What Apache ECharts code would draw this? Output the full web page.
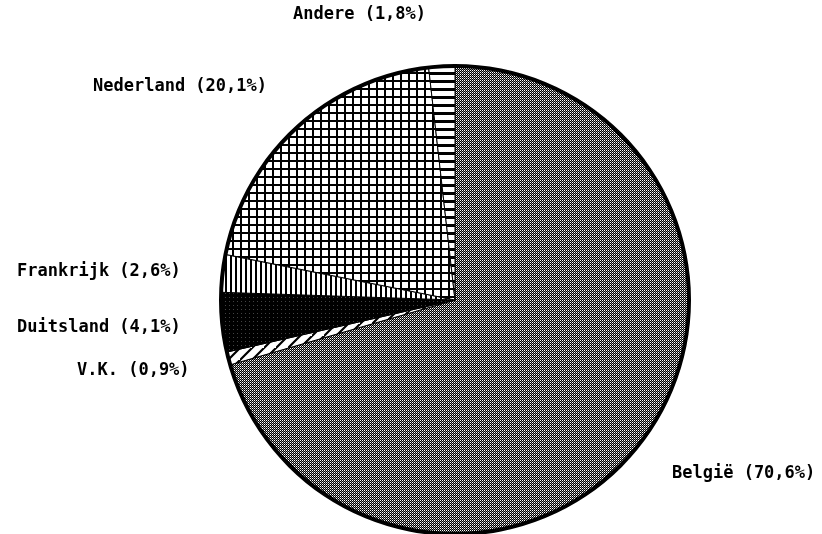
<!DOCTYPE html>
<html><head><meta charset="utf-8">
<script src="https://cdn.jsdelivr.net/npm/echarts@6/dist/echarts.min.js"></script>
<style>html,body{margin:0;padding:0;background:#fff}#c{width:822px;height:534px}</style>
</head><body><div id="c"></div>
<script>
var categories = ['België', 'V.K.', 'Duitsland', 'Frankrijk', 'Nederland', 'Andere'];
var shares = [70.6, 0.9, 4.1, 2.6, 20.1, 1.8];

function tile(w, h, draw) {
  var c = document.createElement('canvas');
  c.width = w; c.height = h;
  var g = c.getContext('2d');
  g.fillStyle = '#fff'; g.fillRect(0, 0, w, h);
  draw(g, w, h);
  return { image: c, repeat: 'repeat' };
}
var patterns = [
  tile(2, 2, function (g) { g.fillStyle = '#000'; g.fillRect(1, 0, 1, 1); g.fillRect(0, 1, 1, 1); g.fillStyle = '#888'; g.fillRect(1, 1, 1, 1); }),
  tile(12, 12, function (g, w, h) { g.strokeStyle = '#000'; g.lineWidth = 2.2; g.beginPath(); g.moveTo(-2, h + 2); g.lineTo(w + 2, -2); g.moveTo(-2 - w, h + 2); g.lineTo(2, -2); g.moveTo(w - 2, 2 * h + 2); g.lineTo(2 * w + 2, h - 2); g.stroke(); }),
  tile(4, 4, function (g) { g.fillStyle = '#000'; g.fillRect(0, 0, 4, 4); g.fillStyle = '#444'; g.fillRect(1, 1, 1, 1); }),
  tile(5, 5, function (g) { g.fillStyle = '#000'; g.fillRect(0, 0, 2, 5); }),
  tile(8, 8, function (g) { g.fillStyle = '#000'; g.fillRect(0, 0, 8, 2); g.fillRect(0, 0, 2, 8); }),
  tile(8, 8, function (g) { g.fillStyle = '#000'; g.fillRect(0, 0, 8, 3); })
];
var labelPos = [[672, 474], [77, 371], [17, 328], [17, 272], [93, 87], [293, 15]];

var data = categories.map(function (n, i) {
  return { name: n, value: shares[i], itemStyle: { color: patterns[i] } };
});

var chart = echarts.init(document.getElementById('c'), null, { renderer: 'canvas' });
chart.setOption({
  animation: false,
  backgroundColor: '#fff',
  series: [{
    type: 'pie',
    center: [455, 300],
    radius: 234,
    startAngle: 90,
    clockwise: true,
    avoidLabelOverlap: false,
    itemStyle: { borderColor: '#000', borderWidth: 1 },
    label: {
      show: true, position: 'outside',
      fontFamily: 'DejaVu Sans Mono', fontWeight: 'bold', fontSize: 17, color: '#000',
      formatter: function (p) { return p.name + ' (' + p.value.toFixed(1).replace('.', ',') + '%)'; }
    },
    labelLine: { show: false },
    labelLayout: function (p) {
      var q = labelPos[p.dataIndex];
      return { x: q[0], y: q[1], align: 'left', verticalAlign: 'middle' };
    },
    emphasis: { disabled: true },
    data: data
  }, {
    type: 'pie',
    center: [455, 300],
    radius: [232, 236],
    silent: true,
    label: { show: false },
    labelLine: { show: false },
    itemStyle: { color: '#000' },
    data: [{ value: 1, name: '' }]
  }]
});
</script></body></html>
